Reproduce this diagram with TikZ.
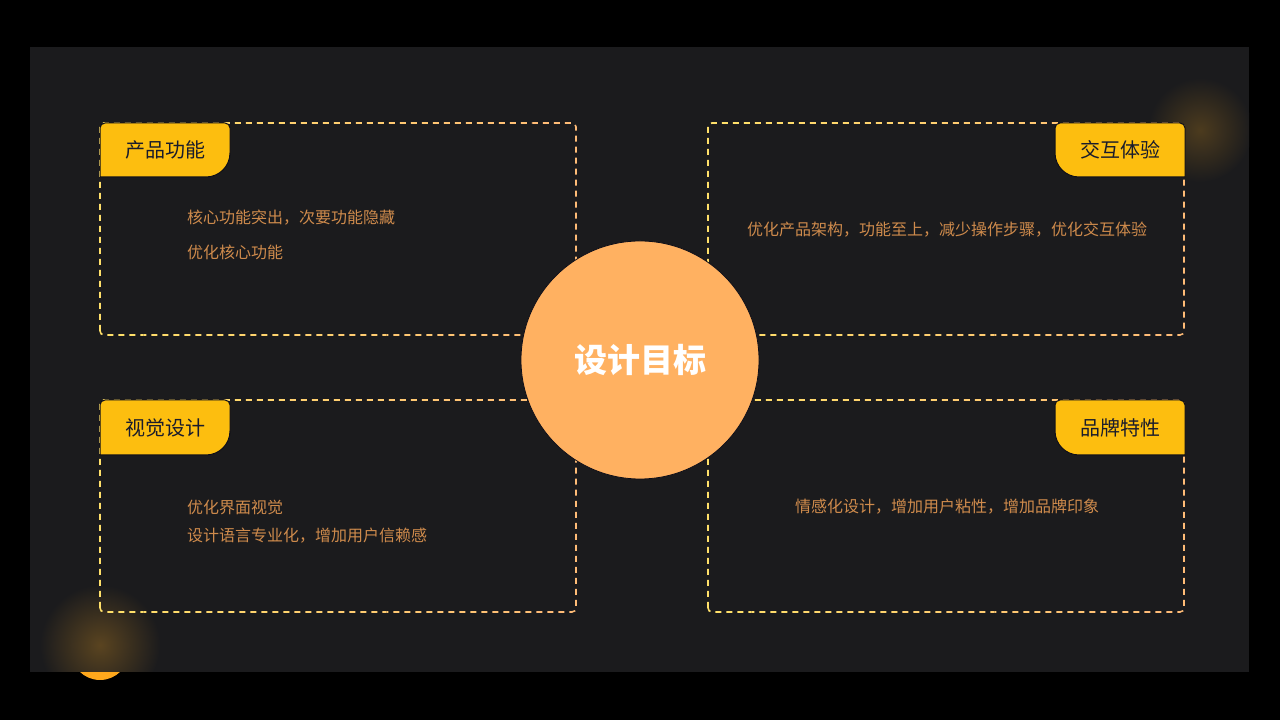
\documentclass[tikz,border=0pt]{standalone}
\usepackage{fontspec}
\setmainfont{Noto Sans CJK SC}
\definecolor{panel}{HTML}{1B1B1D}
\definecolor{glowc}{HTML}{4C3B1E}
\definecolor{glowd}{HTML}{5A4420}
\definecolor{dotO}{HTML}{FFA81C}
\definecolor{dashY}{HTML}{FFE06A}
\definecolor{dashO}{HTML}{FFB878}
\definecolor{tabY}{HTML}{FDBE0F}
\definecolor{tabedge}{HTML}{0E0E18}
\definecolor{tabtext}{HTML}{1A1C2C}
\definecolor{bodytext}{HTML}{CF8B4C}
\definecolor{circ}{HTML}{FFB161}
\tikzset{
  boxline/.style={line width=1.6pt, dash pattern=on 6pt off 5pt, rounded corners=4pt},
  tabshape/.style={fill=tabY, draw=tabedge, line width=1pt},
  tablabel/.style={text=tabtext, font=\fontsize{20}{24}\selectfont, inner sep=0pt},
  bodyl/.style={text=bodytext, font=\fontsize{16}{20}\selectfont, inner sep=0pt, anchor=west},
  bodyc/.style={text=bodytext, font=\fontsize{16}{20}\selectfont, inner sep=0pt},
}
\newcommand\mydashbox[4]{%
  \foreach \k in {0,...,9} {%
    \pgfmathsetmacro\xa{#1-5+(#3-#1+10)*\k/10}%
    \pgfmathsetmacro\xb{#1-5+(#3-#1+10)*(\k+1)/10}%
    \pgfmathtruncatemacro\pct{100-\k*10}%
    \begin{scope}
      \clip (\xa,#2-5) rectangle (\xb,#4+5);
      \draw[boxline, draw=dashY!\pct!dashO] (#1,#2) rectangle (#3,#4);
    \end{scope}
  }%
}
\begin{document}
\begin{tikzpicture}[x=1pt,y=1pt]
\useasboundingbox (0,0) rectangle (1280,720);
\fill[black] (0,0) rectangle (1280,720);
\fill[dotO] (100,69) circle (29);
\fill[panel] (30,48) rectangle (1249,673);
\begin{scope}
  \clip (30,48) rectangle (1249,673);
  \shade[inner color=glowc, outer color=panel] (1200,590) circle (52);
  \shade[inner color=glowd, outer color=panel] (100,75) circle (60);
\end{scope}

% dashed boxes
\mydashbox{100}{385}{576}{597}
\mydashbox{708}{385}{1184}{597}
\mydashbox{100}{108}{576}{320}
\mydashbox{708}{108}{1184}{320}

% tabs
\path[tabshape] (100,543) -- (100,592) arc[start angle=180,end angle=90,radius=5] -- (225,597) arc[start angle=90,end angle=0,radius=5] -- (230,567) arc[start angle=0,end angle=-90,radius=24] -- cycle;
\path[tabshape] (1185,543) -- (1185,592) arc[start angle=0,end angle=90,radius=5] -- (1060,597) arc[start angle=90,end angle=180,radius=5] -- (1055,567) arc[start angle=180,end angle=270,radius=24] -- cycle;
\path[tabshape] (100,265) -- (100,315) arc[start angle=180,end angle=90,radius=5] -- (225,320) arc[start angle=90,end angle=0,radius=5] -- (230,289) arc[start angle=0,end angle=-90,radius=24] -- cycle;
\path[tabshape] (1185,265) -- (1185,315) arc[start angle=0,end angle=90,radius=5] -- (1060,320) arc[start angle=90,end angle=180,radius=5] -- (1055,289) arc[start angle=180,end angle=270,radius=24] -- cycle;

\node[tablabel] (t1) at (165,570) {产品功能};
\node[tablabel] (t2) at (1120,570) {交互体验};
\node[tablabel] (t3) at (165,292) {视觉设计};
\node[tablabel] (t4) at (1120,292) {品牌特性};

% body texts
\node[bodyl] (b1a) at (187,502) {核心功能突出，次要功能隐藏};
\node[bodyl] (b1b) at (187,468) {优化核心功能};
\node[bodyc] (b2) at (947,490) {优化产品架构，功能至上，减少操作步骤，优化交互体验};
\node[bodyl] (b3a) at (187,213) {优化界面视觉};
\node[bodyl] (b3b) at (187,184) {设计语言专业化，增加用户信赖感};
\node[bodyc] (b4) at (947,213) {情感化设计，增加用户粘性，增加品牌印象};

% center circle
\node[circle, fill=circ, draw=tabedge, line width=0.8pt, minimum size=238pt, inner sep=0pt,
      text=white, font=\bfseries\fontsize{33}{38}\selectfont] (goal) at (640,360) {设计目标};
\end{tikzpicture}
\end{document}
